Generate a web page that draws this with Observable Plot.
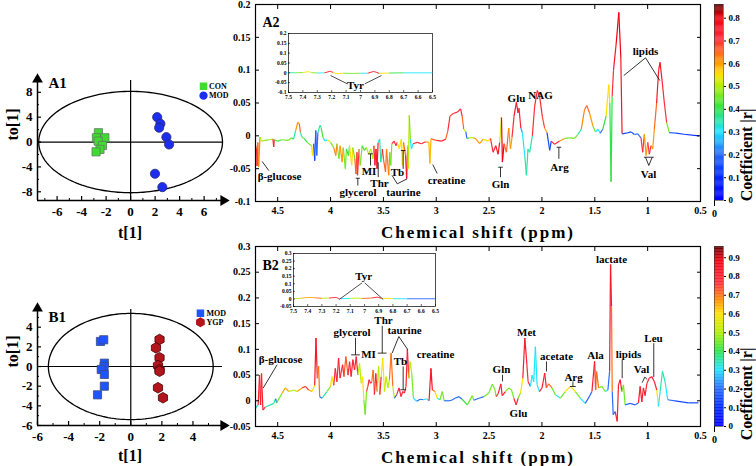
<!DOCTYPE html>
<html><head><meta charset="utf-8">
<script src="https://cdn.jsdelivr.net/npm/d3@7"></script>
<script src="https://cdn.jsdelivr.net/npm/@observablehq/plot@0.6"></script>
<style>
body{margin:0;background:#fff;}
#chart{position:relative;width:756px;height:466px;overflow:hidden;background:#fff;}
#chart svg{position:absolute;left:0;top:0;}
</style></head><body><div id="chart"></div>
<script>
// ---------------- DATA ----------------
// A1 scores: [t[1], to[1]]
const a1Con = [[-2.63,1.5],[-2.79,0.69],[-2.1,0.69],[-2.65,0.15],[-2.3,-0.55],[-2.5,-1.19],[-2.82,-1.57]];
const a1Mod = [[2.17,4.0],[2.43,2.94],[2.33,2.3],[2.92,0.79],[3.14,-0.39],[1.99,-5.1],[2.59,-7.25]];
const a1Ellipse = {rx: 7.5, ry: 8.15};
const a1XTicks = [-6,-4,-2,0,2,4,6];
const a1YTicks = [-8,-4,0,4,8];

// B1 scores
const b1Mod = [[-1.95,2.55],[-1.74,2.72],[-1.7,0.34],[-1.72,0.0],[-1.9,-0.3],[-1.7,-0.81],[-1.7,-2.0],[-2.14,-2.88]];
const b1Ygp = [[1.85,2.75],[1.62,1.9],[1.85,0.89],[1.75,0.1],[1.85,-0.33],[1.85,-0.48],[1.75,-2.16],[2.07,-3.18]];
const b1Ellipse = {rx: 5.3, ry: 5.4};
const b1XTicks = [-6,-4,-2,0,2,4];
const b1YTicks = [-6,-4,-2,0,2,4];

// A2 spectrum: [ppm, coefficient-weighted loading, |r|]
const a2Spectrum = [[4.71,-0.014,0.5],[4.70,-0.02,0.65],[4.695,-0.046,0.7],[4.688,-0.01,0.6],[4.68,-0.047,0.62],[4.668,-0.002,0.55],[4.655,-0.008,0.5],[4.62,-0.007,0.45],[4.58,-0.006,0.5],[4.545,-0.005,0.55],[4.538,-0.017,0.72],[4.532,-0.006,0.5],[4.50,-0.008,0.42],[4.46,-0.006,0.45],[4.40,-0.007,0.45],[4.37,-0.003,0.2],[4.35,-0.005,0.4],[4.33,0.008,0.35],[4.31,0.021,0.6],[4.295,0.018,0.65],[4.285,0.005,0.35],[4.27,-0.002,0.2],[4.25,-0.004,0.45],[4.22,-0.01,0.4],[4.18,-0.015,0.45],[4.17,-0.03,0.55],[4.16,-0.012,0.35],[4.15,-0.038,0.15],[4.14,0.008,0.15],[4.13,-0.03,0.2],[4.12,0.005,0.4],[4.10,0.016,0.35],[4.09,0.013,0.42],[4.07,-0.003,0.45],[4.05,-0.008,0.3],[4.03,-0.006,0.5],[4.0,-0.01,0.55],[3.97,-0.018,0.45],[3.95,-0.03,0.62],[3.94,-0.012,0.5],[3.92,-0.035,0.45],[3.91,-0.015,0.4],[3.89,-0.04,0.6],[3.88,-0.018,0.45],[3.86,-0.05,0.45],[3.85,-0.02,0.5],[3.83,-0.03,0.4],[3.82,-0.015,0.45],[3.80,-0.045,0.55],[3.79,-0.018,0.5],[3.77,-0.035,0.45],[3.76,-0.058,0.65],[3.75,-0.025,0.5],[3.745,-0.06,0.7],[3.73,-0.02,0.45],[3.72,-0.045,0.45],[3.70,-0.015,0.3],[3.68,-0.022,0.4],[3.66,-0.018,0.45],[3.64,-0.028,0.5],[3.62,-0.02,0.45],[3.60,-0.035,0.5],[3.59,-0.015,0.4],[3.58,-0.045,0.72],[3.57,-0.02,0.6],[3.56,-0.05,0.75],[3.55,-0.01,0.3],[3.535,-0.005,0.15],[3.525,-0.04,0.35],[3.51,-0.02,0.5],[3.50,-0.035,0.72],[3.48,-0.055,0.65],[3.47,-0.02,0.5],[3.45,-0.06,0.62],[3.44,-0.025,0.5],[3.43,-0.045,0.45],[3.42,-0.012,0.7],[3.40,-0.008,0.72],[3.38,-0.015,0.7],[3.37,-0.01,0.6],[3.35,-0.02,0.55],[3.33,-0.005,0.72],[3.32,-0.045,0.55],[3.31,-0.01,0.6],[3.29,-0.03,0.65],[3.28,-0.065,0.75],[3.27,-0.015,0.6],[3.265,-0.05,0.5],[3.255,0.031,0.45],[3.245,-0.005,0.2],[3.235,-0.02,0.3],[3.22,-0.012,0.7],[3.18,-0.01,0.7],[3.14,-0.012,0.72],[3.10,-0.009,0.68],[3.07,-0.01,0.6],[3.06,-0.042,0.58],[3.05,-0.004,0.2],[3.04,-0.005,0.4],[3.0,-0.007,0.65],[2.95,-0.008,0.72],[2.91,-0.005,0.7],[2.89,0.008,0.65],[2.87,0.03,0.7],[2.84,0.034,0.68],[2.80,0.036,0.7],[2.77,0.041,0.72],[2.755,0.03,0.65],[2.74,0.01,0.5],[2.72,0.006,0.2],[2.71,-0.004,0.4],[2.69,-0.003,0.5],[2.65,-0.003,0.5],[2.63,-0.004,0.6],[2.59,-0.012,0.6],[2.556,-0.005,0.5],[2.51,-0.008,0.55],[2.487,-0.004,0.2],[2.462,-0.025,0.72],[2.437,-0.015,0.55],[2.415,-0.028,0.75],[2.40,-0.01,0.4],[2.383,0.028,0.52],[2.374,-0.04,0.8],[2.358,-0.012,0.6],[2.336,-0.025,0.65],[2.314,0.012,0.2],[2.298,-0.02,0.6],[2.283,-0.002,0.3],[2.264,0.03,0.7],[2.242,0.051,0.75],[2.226,0.035,0.72],[2.217,0.042,0.72],[2.20,0.012,0.25],[2.185,0.005,0.2],[2.163,-0.03,0.3],[2.147,-0.06,0.35],[2.132,-0.02,0.35],[2.116,-0.025,0.35],[2.091,0.0,0.5],[2.069,0.045,0.7],[2.044,0.069,0.72],[2.022,0.06,0.72],[1.997,0.03,0.68],[1.975,0.012,0.6],[1.952,0.005,0.15],[1.927,-0.022,0.15],[1.912,-0.008,0.3],[1.88,-0.013,0.72],[1.833,-0.008,0.6],[1.786,-0.004,0.45],[1.739,-0.003,0.4],[1.692,-0.004,0.45],[1.66,0.002,0.2],[1.628,0.01,0.35],[1.597,0.04,0.62],[1.575,0.046,0.65],[1.55,0.035,0.6],[1.518,0.015,0.45],[1.493,0.006,0.2],[1.471,0.01,0.3],[1.449,0.004,0.15],[1.424,0.01,0.2],[1.393,0.03,0.4],[1.368,0.078,0.55],[1.358,0.05,0.3],[1.346,-0.07,0.4],[1.336,0.06,0.15],[1.323,0.1,0.7],[1.298,0.14,0.75],[1.273,0.188,0.8],[1.254,0.12,0.75],[1.242,0.003,0.2],[1.204,0.004,0.15],[1.157,0.006,0.15],[1.125,0.002,0.15],[1.094,0.003,0.2],[1.063,-0.003,0.3],[1.047,-0.025,0.7],[1.031,0.002,0.2],[1.015,-0.03,0.6],[0.999,-0.01,0.5],[0.984,-0.028,0.7],[0.968,-0.015,0.55],[0.952,-0.02,0.6],[0.937,0.01,0.2],[0.915,0.05,0.65],[0.896,0.1,0.75],[0.883,0.112,0.75],[0.864,0.085,0.72],[0.842,0.05,0.7],[0.82,0.02,0.45],[0.795,0.005,0.2],[0.732,0.004,0.15],[0.638,0.002,0.1],[0.512,0.0,0.1]];

// B2 spectrum
const b2Spectrum = [[4.71,-0.014,0.35],[4.685,-0.008,0.7],[4.672,0.05,0.8],[4.662,-0.008,0.8],[4.653,0.053,0.8],[4.64,-0.018,0.78],[4.616,-0.012,0.35],[4.537,-0.005,0.35],[4.52,0.004,0.2],[4.51,-0.004,0.3],[4.458,0.015,0.45],[4.427,0.025,0.65],[4.395,0.018,0.6],[4.348,0.021,0.5],[4.317,0.018,0.55],[4.27,0.025,0.65],[4.238,0.028,0.75],[4.207,0.021,0.65],[4.175,0.018,0.6],[4.15,0.03,0.6],[4.138,0.122,0.82],[4.125,0.044,0.8],[4.113,0.067,0.7],[4.103,0.008,0.2],[4.08,0.005,0.25],[4.034,0.018,0.35],[4.0,0.028,0.45],[3.987,0.047,0.6],[3.97,0.03,0.5],[3.955,0.063,0.78],[3.94,0.037,0.7],[3.924,0.083,0.78],[3.91,0.044,0.7],[3.886,0.07,0.78],[3.873,0.047,0.7],[3.855,0.086,0.72],[3.835,0.05,0.78],[3.82,0.076,0.78],[3.805,0.047,0.7],[3.789,0.08,0.78],[3.773,0.06,0.75],[3.757,0.086,0.78],[3.742,0.05,0.5],[3.726,0.073,0.5],[3.71,0.034,0.45],[3.697,0.047,0.6],[3.685,0.002,0.3],[3.672,-0.027,0.45],[3.66,0.018,0.2],[3.647,0.028,0.75],[3.635,0.041,0.78],[3.622,0.034,0.78],[3.61,0.037,0.75],[3.597,0.06,0.7],[3.585,0.012,0.2],[3.572,0.053,0.78],[3.56,0.018,0.2],[3.546,0.067,0.5],[3.534,0.012,0.2],[3.521,0.047,0.78],[3.506,0.083,0.6],[3.49,0.018,0.2],[3.474,0.047,0.5],[3.458,0.025,0.6],[3.443,0.041,0.5],[3.427,0.093,0.7],[3.411,0.028,0.5],[3.396,0.005,0.2],[3.374,0.012,0.2],[3.352,0.025,0.78],[3.333,0.008,0.7],[3.317,0.018,0.78],[3.301,0.015,0.78],[3.286,0.028,0.78],[3.273,0.1,0.8],[3.26,0.044,0.5],[3.248,0.076,0.5],[3.232,0.053,0.45],[3.216,0.005,0.3],[3.185,-0.001,0.2],[3.153,0.003,0.2],[3.122,0.002,0.2],[3.09,0.004,0.3],[3.068,0.0,0.2],[3.05,0.063,0.82],[3.037,0.021,0.7],[3.012,0.018,0.6],[2.99,0.005,0.3],[2.965,0.002,0.2],[2.943,0.018,0.45],[2.925,0.0,0.2],[2.886,0.0,0.2],[2.855,0.001,0.2],[2.823,0.005,0.2],[2.785,0.008,0.2],[2.755,0.003,0.2],[2.706,-0.008,0.4],[2.659,0.01,0.45],[2.645,0.001,0.3],[2.596,0.005,0.2],[2.55,0.008,0.2],[2.502,0.015,0.45],[2.47,0.032,0.45],[2.445,0.022,0.45],[2.433,0.008,0.3],[2.414,0.014,0.75],[2.389,0.033,0.8],[2.376,0.01,0.75],[2.345,0.018,0.8],[2.313,0.025,0.45],[2.288,0.021,0.45],[2.266,0.005,0.65],[2.244,-0.008,0.78],[2.225,0.005,0.65],[2.203,0.015,0.45],[2.181,0.044,0.6],[2.162,0.122,0.8],[2.147,0.083,0.78],[2.131,0.037,0.78],[2.109,0.028,0.6],[2.093,0.05,0.3],[2.078,0.037,0.3],[2.062,0.105,0.3],[2.046,0.031,0.3],[2.024,0.018,0.3],[1.999,0.025,0.78],[1.974,0.054,0.8],[1.958,0.025,0.78],[1.936,0.033,0.7],[1.905,0.025,0.45],[1.873,0.012,0.3],[1.826,0.005,0.3],[1.779,0.018,0.45],[1.731,0.028,0.6],[1.684,0.018,0.45],[1.637,0.005,0.3],[1.59,-0.005,0.2],[1.552,0.008,0.2],[1.527,0.018,0.2],[1.502,0.077,0.8],[1.492,0.021,0.7],[1.483,0.057,0.7],[1.464,0.025,0.45],[1.433,0.028,0.45],[1.401,0.018,0.45],[1.376,0.021,0.3],[1.36,0.057,0.2],[1.351,0.265,0.82],[1.342,0.184,0.7],[1.335,0.018,0.7],[1.326,-0.027,0.2],[1.307,-0.021,0.6],[1.288,-0.04,0.8],[1.276,0.031,0.7],[1.26,0.041,0.8],[1.244,0.018,0.7],[1.229,0.031,0.45],[1.213,-0.008,0.2],[1.166,-0.005,0.2],[1.118,-0.008,0.2],[1.087,-0.004,0.2],[1.071,0.028,0.8],[1.055,-0.002,0.3],[1.04,0.025,0.8],[1.024,0.01,0.3],[1.008,0.033,0.78],[0.986,0.044,0.78],[0.961,0.047,0.8],[0.936,0.037,0.78],[0.914,0.021,0.6],[0.898,-0.011,0.2],[0.882,0.018,0.3],[0.86,0.057,0.35],[0.835,0.037,0.3],[0.81,0.002,0.2],[0.741,0.0,0.2],[0.615,-0.004,0.15],[0.52,-0.004,0.15]];

// insets (aromatic region)
const a2Inset = [[7.5,0.001,0.35],[7.45,0.0,0.3],[7.4,0.002,0.45],[7.36,0.006,0.55],[7.34,0.001,0.45],[7.3,-0.001,0.3],[7.25,0.0,0.3],[7.21,0.008,0.75],[7.19,0.002,0.8],[7.17,-0.004,0.55],[7.12,-0.002,0.4],[7.05,-0.003,0.45],[7.0,-0.002,0.3],[6.95,-0.002,0.45],[6.91,0.007,0.75],[6.89,0.003,0.8],[6.87,-0.003,0.55],[6.8,-0.001,0.4],[6.7,0.0,0.3],[6.6,0.0,0.3],[6.5,0.0,0.3]];
const b2Inset = [[7.5,0.002,0.3],[7.45,0.004,0.5],[7.4,0.01,0.65],[7.35,0.008,0.7],[7.3,0.004,0.45],[7.25,0.006,0.5],[7.2,0.01,0.78],[7.18,0.002,0.6],[7.1,0.003,0.3],[7.05,0.006,0.5],[7.02,0.003,0.3],[6.95,0.006,0.7],[6.91,0.012,0.8],[6.88,0.004,0.6],[6.8,0.002,0.3],[6.7,0.001,0.2],[6.6,0.001,0.2],[6.5,0.001,0.2]];

const ppmTicks = [4.5,4,3.5,3,2.5,2,1.5,1,0.5];
const a2YTicks = [-0.1,-0.05,0,0.05,0.1,0.15,0.2];
const b2YTicks = [-0.05,0,0.05,0.1,0.15,0.2,0.25,0.3];
const insetXTicks = [7.5,7.4,7.3,7.2,7.1,7,6.9,6.8,6.7,6.6,6.5];
const cbATicks = [0,0.1,0.2,0.3,0.4,0.5,0.6,0.7,0.8];
const cbBTicks = [0,0.1,0.2,0.3,0.4,0.5,0.6,0.7,0.8,0.9];

// annotations (label text at ppm / value)
const a2Labels = [
  {t:"β-glucose",x:4.483,y:-0.0615},{t:"glycerol",x:3.74,y:-0.0859},{t:"MI",x:3.636,y:-0.0539},
  {t:"Thr",x:3.537,y:-0.0722},{t:"taurine",x:3.31,y:-0.0859},{t:"Tb",x:3.367,y:-0.0554},
  {t:"creatine",x:2.903,y:-0.0681},{t:"Gln",x:2.392,y:-0.0746},{t:"Glu",x:2.241,y:0.0563},
  {t:"NAG",x:2.014,y:0.0614},{t:"Arg",x:1.834,y:-0.0478},{t:"lipids",x:1.02,y:0.1288},{t:"Val",x:0.992,y:-0.0589}];
const a2Pointers = [
  [4.647,-0.039,4.584,-0.053],
  [3.742,-0.0646,3.742,-0.0757],[3.762,-0.0646,3.722,-0.0646],
  [3.622,-0.0274,3.622,-0.0452],[3.644,-0.0274,3.6,-0.0274],
  [3.549,-0.0402,3.549,-0.063],
  [3.369,-0.0731,3.417,-0.0605],[3.369,-0.0731,3.275,-0.0655],
  [3.313,-0.0224,3.313,-0.0503],[3.335,-0.0224,3.291,-0.0224],
  [3.033,-0.0437,2.991,-0.0574],
  [2.392,-0.0478,2.392,-0.063],[2.414,-0.0478,2.37,-0.0478],
  [1.84,-0.0174,1.84,-0.035],[1.862,-0.0174,1.818,-0.0174],
  [1.02,0.1188,1.226,0.0918],[1.02,0.1188,0.885,0.0842],
  [0.989,-0.0452,1.02,-0.0326],[0.989,-0.0452,0.957,-0.0326],[1.035,-0.0326,0.942,-0.0326]];
const b2Labels = [
  {t:"β-glucose",x:4.473,y:0.0799},{t:"glycerol",x:3.797,y:0.1328},{t:"MI",x:3.641,y:0.0893},
  {t:"Thr",x:3.499,y:0.1567},{t:"taurine",x:3.30,y:0.1361},{t:"Tb",x:3.338,y:0.0758},
  {t:"creatine",x:3.007,y:0.0893},{t:"Gln",x:2.383,y:0.0603},{t:"Glu",x:2.222,y:-0.0238},
  {t:"Met",x:2.146,y:0.1336},{t:"acetate",x:1.862,y:0.0861},{t:"Arg",x:1.701,y:0.046},
  {t:"Ala",x:1.493,y:0.0881},{t:"lactate",x:1.342,y:0.2755},{t:"lipids",x:1.181,y:0.0893},
  {t:"Val",x:1.058,y:0.0603},{t:"Leu",x:0.945,y:0.1217}];
const b2Pointers = [
  [4.505,0.0702,4.637,0.0249],
  [3.764,0.1224,3.764,0.0893],[3.805,0.0893,3.723,0.0893],
  [3.511,0.1457,3.511,0.0927],[3.553,0.0927,3.47,0.0927],
  [3.354,0.125,3.417,0.0928],[3.354,0.125,3.269,0.0992],
  [3.313,0.0667,3.313,0.0214],[3.34,0.0214,3.285,0.0214],
  [2.373,0.0506,2.373,0.0376],
  [1.957,0.0764,1.957,0.057],
  [1.707,0.0375,1.707,0.0278],[1.735,0.0278,1.68,0.0278],
  [1.241,0.0797,1.241,0.0441],
  [1.052,0.0352,1.027,0.046],[1.027,0.046,1.004,0.0414],
  [0.942,0.112,0.942,0.0461]];
const a2InsetLabel = [{t:"Tyr",x:7.035,y:-0.064}];
const a2InsetPointers = [[7.092,-0.0558,7.208,-0.0136],[6.97,-0.0558,6.854,-0.0136]];
const b2InsetLabel = [{t:"Tyr",x:7.006,y:0.148}];
const b2InsetPointers = [[7.017,0.1065,7.178,-0.0038],[6.999,0.1065,6.868,-0.0038]];

// ---------------- STYLE / LAYOUT ----------------
const W = 756, H = 466;
const FONT = "'Liberation Serif','Times New Roman',serif";
const chart = document.getElementById("chart");
const base = {width: W, height: H, style: {background: "transparent", fontFamily: FONT, fontWeight: "bold", color: "black"}};
const margins = b => ({marginLeft: b[0], marginTop: b[1], marginRight: W - b[2], marginBottom: H - b[3]});
const jet = ["#0000ff","#0026ff","#2a6bff","#1ee6ff","#2fe34a","#b5ef00","#ffe100","#ff9a00","#ff2e3e","#f00010","#5a0000"];
const colorA = {type: "linear", domain: [0,0.1,0.2,0.3,0.4,0.5,0.55,0.6,0.7,0.8,0.86], range: jet};
const colorB = {type: "linear", domain: [0,0.1,0.2,0.3,0.4,0.5,0.6,0.66,0.76,0.88,0.96], range: jet};
const fmt = d => String(+(+d).toFixed(3));
const noText = () => "";
const add = p => chart.appendChild(p);

function segments(pts) {
  return pts.slice(1).map((p, i) => {
    const q = pts[i];
    return {x1: q[0], y1: q[1], x2: p[0], y2: p[1], r: Math.abs(p[1]) > Math.abs(q[1]) ? p[2] : q[2]};
  });
}
function ellipse(e) {
  return d3.range(0, 361, 2).map(a => [e.rx * Math.cos(a * Math.PI / 180), e.ry * Math.sin(a * Math.PI / 180)]);
}

function scorePlot(o) {
  const [x0, x1] = o.xDomain, [y0, y1] = o.yDomain;
  return Plot.plot({
    ...base, ...margins(o.box),
    x: {domain: o.xDomain}, y: {domain: o.yDomain},
    marks: [
      Plot.ruleX([0], {stroke: "black", strokeWidth: 1.2}),
      Plot.ruleY([0], {stroke: "black", strokeWidth: 1.2}),
      Plot.line(ellipse(o.ellipse), {x: d => d[0], y: d => d[1], stroke: "black", strokeWidth: 1.3}),
      Plot.ruleX([x0], {stroke: "black", strokeWidth: 1.5}),
      Plot.ruleY([y0], {stroke: "black", strokeWidth: 1.5}),
      Plot.dot([[x0, y1]], {x: d => d[0], y: d => d[1], symbol: "triangle", r: 4, fill: "black", dy: -1}),
      Plot.dot([[x1, y0]], {x: d => d[0], y: d => d[1], symbol: "triangle", r: 4, fill: "black", rotate: 90, dx: 1}),
      Plot.axisX({ticks: o.xTicks, tickSize: -4, tickFormat: noText, label: null, strokeWidth: 1.2}),
      Plot.axisX({ticks: o.xMinor, tickSize: -2, tickFormat: noText, label: null}),
      Plot.axisX({ticks: o.xTicks, tickSize: 0, tickPadding: 6, tickFormat: d => String(d), fontSize: 13, label: null}),
      Plot.axisY({ticks: o.yTicks, tickSize: -4, tickFormat: noText, label: null, strokeWidth: 1.2}),
      Plot.axisY({ticks: o.yMinor, tickSize: -2, tickFormat: noText, label: null}),
      Plot.axisY({ticks: o.yTicks, tickSize: 0, tickPadding: 5, tickFormat: d => String(d), fontSize: 13, label: null}),
      ...o.groups.map(g => Plot.dot(g.data, {x: d => d[0], y: d => d[1], symbol: g.symbol, r: g.r, fill: g.fill, stroke: g.stroke, strokeWidth: 0.8})),
      ...o.groups.map(g => Plot.dot([g.legend], {x: d => d[0], y: d => d[1], symbol: g.symbol, r: g.lr, fill: g.fill, stroke: g.fill})),
      ...o.groups.map(g => Plot.text([g.legend], {x: d => d[2], y: d => d[1], text: () => g.name, textAnchor: "start", fontSize: 8})),
      Plot.text([o.panel], {frameAnchor: "top-left", dx: 11, dy: o.panelDy, lineAnchor: "middle", textAnchor: "start", fontSize: 15}),
      Plot.text(["to[1]"], {frameAnchor: "left", dx: -25, rotate: -90, fontSize: 16}),
      Plot.text(["t[1]"], {frameAnchor: "bottom", dy: o.tDy, lineAnchor: "middle", fontSize: 16})
    ]
  });
}

function spectrumPlot(o) {
  const svg = Plot.plot({
    ...base, ...margins(o.box),
    x: {domain: [4.71, 0.5]}, y: {domain: o.yDomain}, color: o.color,
    marks: [
      Plot.link(segments(o.points), {x1: "x1", y1: "y1", x2: "x2", y2: "y2", stroke: "r", strokeWidth: 1.2}),
      Plot.link(o.pointers, {x1: d => d[0], y1: d => d[1], x2: d => d[2], y2: d => d[3], stroke: "black", strokeWidth: 0.8}),
      Plot.text(o.labels, {x: "x", y: "y", text: "t", fontSize: 11, fill: "black"}),
      Plot.frame({stroke: "black", strokeWidth: 1.2}),
      Plot.axisX({anchor: "bottom", ticks: ppmTicks, tickSize: -4, tickFormat: noText, label: null}),
      Plot.axisX({anchor: "top", ticks: ppmTicks, tickSize: -4, tickFormat: noText, label: null}),
      Plot.axisX({anchor: "bottom", ticks: ppmTicks, tickSize: 0, tickPadding: 5, tickFormat: fmt, fontSize: 10, label: null}),
      Plot.axisY({anchor: "left", ticks: o.yTicks, tickSize: -4, tickFormat: noText, label: null}),
      Plot.axisY({anchor: "right", ticks: o.yTicks, tickSize: -4, tickFormat: noText, label: null}),
      Plot.axisY({anchor: "left", ticks: o.yTicks, tickSize: 0, tickPadding: 5, tickFormat: fmt, fontSize: 10, label: null}),
      Plot.text([o.panel], {frameAnchor: "top-left", dx: o.panelDx, dy: o.panelDy, lineAnchor: "middle", textAnchor: "start", fontSize: 14}),
      Plot.text(["Chemical shift (ppm)"], {frameAnchor: "bottom", dy: 31, lineAnchor: "middle", fontSize: 17})
    ]
  });
  d3.select(svg).selectAll("text").filter(function() { return this.textContent === "Chemical shift (ppm)"; })
    .attr("letter-spacing", "2px");
  return svg;
}

function insetPlot(o) {
  return Plot.plot({
    ...base, ...margins(o.box),
    x: {domain: [7.5, 6.5]}, y: {domain: o.yDomain}, color: o.color,
    marks: [
      Plot.frame({fill: "white", stroke: "black", strokeWidth: 0.7}),
      Plot.link(segments(o.points), {x1: "x1", y1: "y1", x2: "x2", y2: "y2", stroke: "r", strokeWidth: 0.9}),
      Plot.link(o.pointers, {x1: d => d[0], y1: d => d[1], x2: d => d[2], y2: d => d[3], stroke: "black", strokeWidth: 0.7}),
      Plot.text(o.labels, {x: "x", y: "y", text: "t", fontSize: 11, fill: "black"}),
      Plot.axisX({anchor: "bottom", ticks: insetXTicks, tickSize: -2, tickFormat: noText, label: null, strokeWidth: 0.6}),
      Plot.axisX({anchor: "bottom", ticks: insetXTicks, tickSize: 0, tickPadding: 3, tickFormat: fmt, fontSize: 5.5, label: null}),
      Plot.axisY({anchor: "left", ticks: o.yTicks, tickSize: -2, tickFormat: noText, label: null, strokeWidth: 0.6}),
      Plot.axisY({anchor: "left", ticks: o.yTicks, tickSize: 0, tickPadding: 2, tickFormat: fmt, fontSize: 5.5, label: null})
    ]
  });
}

function colorbar(o) {
  const step = 0.004;
  const bands = d3.range(0, o.max, step);
  return Plot.plot({
    ...base, ...margins(o.box),
    x: {domain: [0, 1]}, y: {domain: [0, o.max]}, color: o.color,
    marks: [
      Plot.rect(bands, {x1: () => 0, x2: () => 1, y1: d => d, y2: d => Math.min(o.max, d + step * 1.3), fill: d => d}),
      Plot.frame({stroke: "#333", strokeWidth: 0.6}),
      Plot.axisY({anchor: "right", ticks: o.ticks, tickSize: 2, tickPadding: 3, tickFormat: fmt, fontSize: 9, label: null}),
      Plot.text(["Coefficient |r|"], {frameAnchor: "right", dx: 23, dy: o.labelDy, rotate: -90, fontSize: 16})
    ]
  });
}

// ---------------- RENDER ----------------
add(scorePlot({
  box: [37, 80, 222, 200], xDomain: [-7.6, 7.5], yDomain: [-9.4, 9.9], ellipse: a1Ellipse,
  xTicks: a1XTicks, xMinor: [-7,-5,-3,-1,1,3,5,7], yTicks: a1YTicks, yMinor: [-6,-2,2,6],
  panel: "A1", panelDy: 3, tDy: 32,
  groups: [
    {name: "CON", data: a1Con, symbol: "square", r: 4.6, lr: 3.4, fill: "#3fdc2f", stroke: "#5d7d5d", legend: [5.95, 8.99, 6.4]},
    {name: "MOD", data: a1Mod, symbol: "circle", r: 4.6, lr: 3.4, fill: "#1c2ff0", stroke: "#2a2a70", legend: [5.95, 7.46, 6.4]}
  ]
}));
add(scorePlot({
  box: [37, 309, 222, 425], xDomain: [-6, 5.9], yDomain: [-6, 5.8], ellipse: b1Ellipse,
  xTicks: b1XTicks, xMinor: [-5,-3,-1,1,3,5], yTicks: b1YTicks, yMinor: [-5,-3,-1,1,3,5],
  panel: "B1", panelDy: 8, tDy: 30,
  groups: [
    {name: "MOD", data: b1Mod, symbol: "square", r: 4.6, lr: 3.4, fill: "#1f55ff", stroke: "#3b4a7a", legend: [4.48, 5.42, 4.87]},
    {name: "YGP", data: b1Ygp, symbol: "hexagon", r: 4.6, lr: 3.6, fill: "#b3151c", stroke: "#4a0000", legend: [4.48, 4.51, 4.87]}
  ]
}));
add(spectrumPlot({box: [255, 4, 700, 201], yDomain: [-0.1, 0.2], yTicks: a2YTicks, color: colorA,
  points: a2Spectrum, labels: a2Labels, pointers: a2Pointers, panel: "A2", panelDx: 7, panelDy: 18}));
add(spectrumPlot({box: [255, 246, 700, 426], yDomain: [-0.05, 0.3], yTicks: b2YTicks, color: colorB,
  points: b2Spectrum, labels: b2Labels, pointers: b2Pointers, panel: "B2", panelDx: 7, panelDy: 19}));
add(insetPlot({box: [288, 33, 432, 92], yDomain: [-0.1, 0.2], yTicks: a2YTicks, color: colorA,
  points: a2Inset, labels: a2InsetLabel, pointers: a2InsetPointers}));
add(insetPlot({box: [293, 253, 435, 306], yDomain: [-0.05, 0.3], yTicks: b2YTicks, color: colorB,
  points: b2Inset, labels: b2InsetLabel, pointers: b2InsetPointers}));
add(colorbar({box: [714, 4, 723, 200], max: 0.86, ticks: cbATicks, color: colorA, labelDy: 6}));
add(colorbar({box: [714, 246, 723, 426], max: 0.96, ticks: cbBTicks, color: colorB, labelDy: 11}));
</script></body></html>
